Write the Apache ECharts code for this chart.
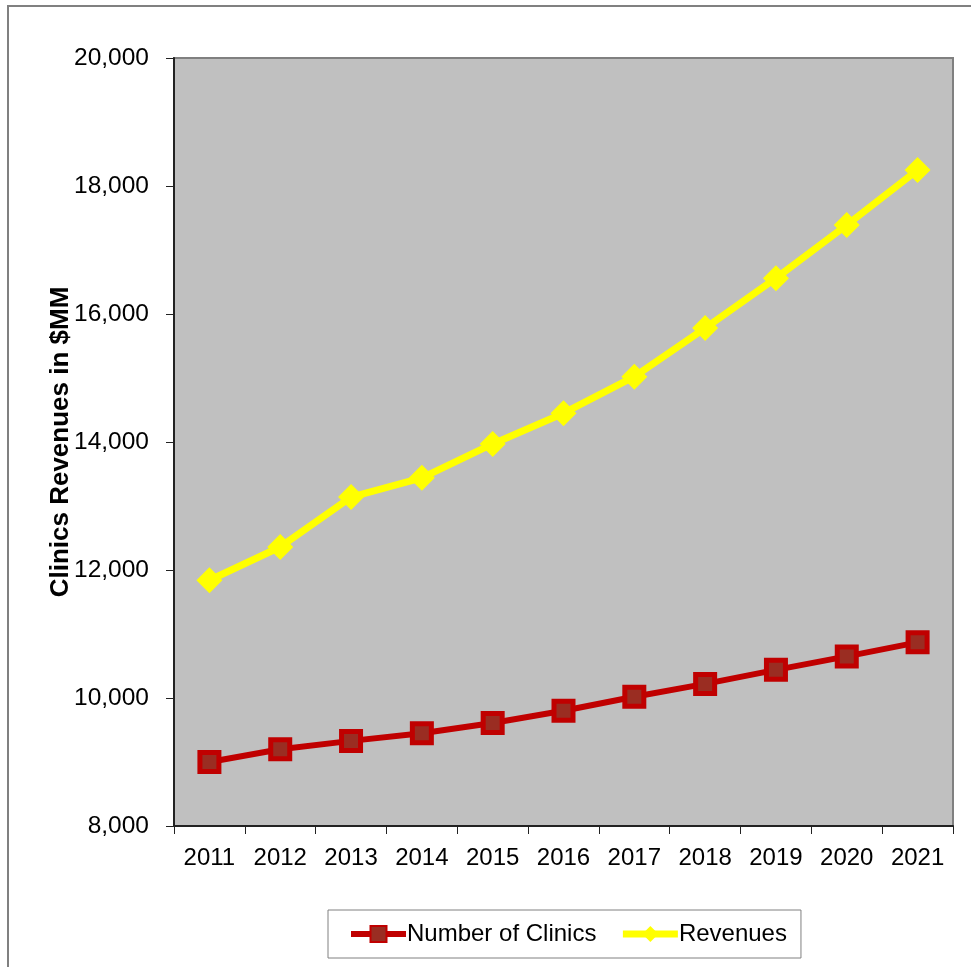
<!DOCTYPE html>
<html>
<head>
<meta charset="utf-8">
<script src="https://cdn.jsdelivr.net/npm/echarts@6/dist/echarts.min.js"></script>
<style>
  html, body { margin: 0; padding: 0; background: #fff; }
  #chart { width: 971px; height: 967px; }
</style>
</head>
<body>
<div id="chart"></div>
<script>
const years = ['2011', '2012', '2013', '2014', '2015', '2016', '2017', '2018', '2019', '2020', '2021']
const clinics = [9000, 9200, 9330, 9450, 9610, 9800, 10020, 10220, 10440, 10650, 10870]
const revenues = [11840, 12360, 13140, 13440, 13970, 14450, 15020, 15780, 16560, 17390, 18250]
const yMin = 8000
const yMax = 20000
const yStep = 2000

const myChart = echarts.init(document.getElementById('chart'))
const font = 'Arial, "Liberation Sans", sans-serif'
const option = {
  backgroundColor: '#fff',
  animation: false,
  graphic: [
    {
      type: 'rect',
      shape: { x: 8, y: 6, width: 1000, height: 1000 },
      style: { fill: 'none', stroke: '#808080', lineWidth: 2 },
      z: -1,
    },
  ],
  grid: {
    left: 174,
    right: 18,
    top: 58,
    bottom: 141,
    show: true,
    backgroundColor: '#c0c0c0',
    borderColor: '#808080',
    borderWidth: 2,
  },
  legend: {
    data: [
      { name: 'Number of Clinics', lineStyle: { width: 6, color: '#c00000' } },
      { name: 'Revenues', lineStyle: { width: 7, color: '#ffff00' } },
    ],
    left: 328,
    top: 910,
    padding: [12, 14, 12, 20],
    itemGap: 23,
    itemWidth: 55,
    itemHeight: 20,
    borderColor: '#808080',
    borderWidth: 1,
    textStyle: { fontSize: 24, fontFamily: font, color: '#000', padding: [0, 0, 0, -4] },
  },
  xAxis: {
    type: 'category',
    boundaryGap: true,
    data: years,
    axisLine: { lineStyle: { color: '#222', width: 2 } },
    axisTick: { show: true, interval: 0, inside: false, length: 8, lineStyle: { color: '#222', width: 1 } },
    axisLabel: { interval: 0, fontSize: 24, fontFamily: font, color: '#000', margin: 20 },
    splitLine: { show: false },
  },
  yAxis: {
    type: 'value',
    min: yMin,
    max: yMax,
    interval: yStep,
    name: 'Clinics Revenues in $MM',
    nameLocation: 'middle',
    nameGap: 100,
    nameMoveOverlap: false,
    nameTextStyle: { fontSize: 26, fontWeight: 'bold', fontFamily: font, color: '#000' },
    axisLine: { show: true, lineStyle: { color: '#222', width: 2 } },
    axisTick: { show: true, inside: false, length: 8, lineStyle: { color: '#222', width: 1 } },
    axisLabel: {
      fontSize: 24.5,
      fontFamily: font,
      color: '#000',
      margin: 25,
      formatter: v => v.toLocaleString('en-US'),
    },
    splitLine: { show: false },
  },
  series: [
    {
      name: 'Number of Clinics',
      type: 'line',
      data: clinics,
      symbol: 'rect',
      symbolSize: 19,
      lineStyle: { color: '#c00000', width: 6 },
      itemStyle: { color: '#9a2d22', borderColor: '#c00000', borderWidth: 5 },
      z: 3,
    },
    {
      name: 'Revenues',
      type: 'line',
      data: revenues,
      symbol: 'diamond',
      symbolSize: 26,
      lineStyle: { color: '#ffff00', width: 7 },
      itemStyle: { color: '#ffff00', borderWidth: 0 },
      z: 2,
    },
  ],
}
myChart.setOption(option)
</script>
</body>
</html>
